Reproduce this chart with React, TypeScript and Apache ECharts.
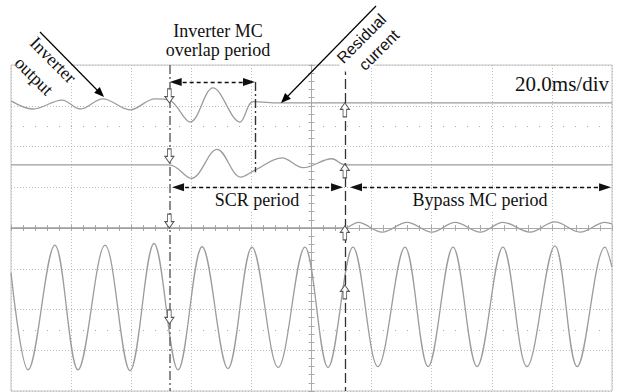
import React, { useEffect, useRef } from "react";
import * as echarts from "echarts";

// ---- axes: oscilloscope screen, 20 ms/div horizontally, 8 vertical divisions ----
const TIME_MIN = -100;
const TIME_MAX = 100;
const TIME_DIV = 20;
const DIV_MIN = -4;
const DIV_MAX = 4;
const TIME_SCALE_LABEL = "20.0ms/div";

// ---- traces: [time (ms), screen divisions] key points ----
const inverterVoltage: [number, number][] = [
  [-100, 3.12], [-92.7, 2.92], [-83.0, 3.14], [-77.0, 2.92], [-69.4, 3.17],
  [-60.4, 2.9], [-52.1, 3.17], [-47.3, 3.14], [-40.4, 2.6], [-32.8, 3.44],
  [-23.8, 2.6], [-19.4, 3.1], [-12, 3.07], [100, 3.07],
];
const scrCurrent: [number, number][] = [
  [-100, 1.55], [-47.3, 1.55], [-40.0, 1.22], [-31.4, 1.93], [-23.5, 1.25],
  [-18.8, 1.42], [-9.8, 1.72], [-2.8, 1.48], [6.8, 1.7], [11.1, 1.55], [100, 1.55],
];
const bypassCurrent: [number, number][] = [
  [-100, 0], [11.1, 0], [15.5, 0.14], [23.5, -0.1], [31.8, 0.14], [40.1, -0.1],
  [47.8, 0.14], [56.2, -0.1], [63.7, 0.14], [72.7, -0.1], [81.0, 0.15],
  [89.4, -0.1], [97.7, 0.14], [100, 0.1],
];
const loadVoltage: [number, number][] = [
  [-100, -1.1], [-94.3, -3.48], [-85.4, -0.42], [-77.7, -3.48], [-68.7, -0.42],
  [-60.4, -3.5], [-52.4, -0.38], [-44.4, -3.48], [-36.4, -0.46], [-27.8, -3.45],
  [-19.8, -0.47], [-11.1, -3.42], [-2.2, -0.47], [5.5, -3.42], [13.8, -0.47],
  [22.1, -3.4], [31.1, -0.47], [38.8, -3.4], [47.1, -0.47], [55.1, -3.4],
  [63.7, -0.47], [71.7, -3.4], [81.0, -0.44], [88.4, -3.4], [97.7, -0.47], [100, -0.96],
];

// ---- event times (ms) and marker levels (div) ----
const inverterOffTime = -47.3;
const overlapEndTime = -18.8;
const bypassOnTime = 11.1;
const downMarkerLevels = [3.24, 1.77, 0.17, -2.18];
const upMarkerLevels = [2.9, 1.4, -0.12, -1.57];
const overlapArrow = { from: -45.2, to: -20.8, level: 3.58 };
const scrArrow = { from: -44.4, to: 8.5, level: 1.0 };
const bypassArrow = { from: 14.8, to: 97.7, level: 1.0 };
const dottedRows = [2.5, -2.5];

const SERIF = "'Liberation Serif', 'Times New Roman', serif";
const SANS = "'Liberation Sans', Arial, sans-serif";
const TRACE = "#9c9c9c";
const GRID = "#bdbdbd";

const UP_ARROW = "path://M3,13 L3,6 L0,6 L5,0 L10,6 L7,6 L7,13 Z";
const DOWN_ARROW = "path://M3,0 L7,0 L7,7 L10,7 L5,13 L0,7 L3,7 Z";

function txt(text: string, x: number, y: number, font: string, rotation = 0, extra: any = {}) {
  return {
    type: "text",
    x,
    y,
    rotation,
    z: 60,
    style: {
      text,
      font,
      fill: "#111",
      align: extra.align || "center",
      textAlign: extra.align || "center",
      verticalAlign: "middle",
      textVerticalAlign: "middle",
      ...(extra.bg ? { backgroundColor: "#fff", padding: [1, 3] } : {}),
    },
  };
}

export default function App() {
  const ref = useRef<HTMLDivElement>(null);
  useEffect(() => {
    if (!ref.current) return;
    const chart = echarts.init(ref.current, undefined, { renderer: "svg" });
    const traceSeries = (name: string, data: [number, number][]) => ({
      name,
      type: "line",
      data,
      smooth: 0.36,
      showSymbol: false,
      symbol: "none",
      lineStyle: { color: TRACE, width: 1.3 },
      z: 3,
    });
    const centerAxisX = (position: string, split: boolean) => ({
      type: "value",
      min: TIME_MIN,
      max: TIME_MAX,
      interval: TIME_DIV,
      position,
      axisLine: { show: true, onZero: true, onZeroAxisIndex: 0, lineStyle: { color: "#aaa", width: 1 } },
      axisTick: { show: true, length: 3, lineStyle: { color: "#aaa" } },
      minorTick: { show: true, splitNumber: 5, length: 3, lineStyle: { color: "#aaa" } },
      axisLabel: { show: false },
      splitLine: { show: split, lineStyle: { color: GRID, type: [1, 2], width: 1 } },
    });
    const centerAxisY = (position: string, split: boolean) => ({
      type: "value",
      min: DIV_MIN,
      max: DIV_MAX,
      interval: 1,
      position,
      axisLine: { show: true, onZero: true, onZeroAxisIndex: 0, lineStyle: { color: "#aaa", width: 1 } },
      axisTick: { show: true, length: 3, lineStyle: { color: "#aaa" } },
      minorTick: { show: true, splitNumber: 5, length: 3, lineStyle: { color: "#aaa" } },
      axisLabel: { show: false },
      splitLine: { show: split, lineStyle: { color: GRID, type: [1, 2], width: 1 } },
    });

    const arrowPair = (a: { from: number; to: number; level: number }) => [
      { coord: [a.from, a.level], symbol: "triangle" },
      { coord: [a.to, a.level], symbol: "triangle" },
    ];

    chart.setOption({
      animation: false,
      backgroundColor: "#fff",
      grid: {
        left: 11,
        right: 8,
        top: 65,
        bottom: 1,
        show: true,
        borderColor: "#c4c4c4",
        borderWidth: 1,
      },
      xAxis: [centerAxisX("bottom", true), centerAxisX("top", false)],
      yAxis: [centerAxisY("left", true), centerAxisY("right", false)],
      series: [
        traceSeries("Inverter output", inverterVoltage),
        traceSeries("SCR current", scrCurrent),
        traceSeries("Bypass current", bypassCurrent),
        traceSeries("Load voltage", loadVoltage),
        {
          name: "rows",
          type: "line",
          data: [],
          markLine: {
            silent: true,
            symbol: "none",
            label: { show: false },
            lineStyle: { color: "#aaa", type: [1, 11], width: 1.2 },
            data: dottedRows.map((v) => ({ yAxis: v })),
          },
        },
        {
          name: "switch lines",
          type: "line",
          data: [],
          z: 5,
          markLine: {
            silent: true,
            symbol: "none",
            label: { show: false },
            data: [
              [
                { coord: [inverterOffTime, DIV_MAX], lineStyle: { color: "#6f6f6f", width: 1.6, type: [9, 3, 2, 3] } },
                { coord: [inverterOffTime, DIV_MIN] },
              ],
              [
                { coord: [overlapEndTime, 3.58], lineStyle: { color: "#333", width: 1.4, type: [9, 3, 2, 3] } },
                { coord: [overlapEndTime, 1.37] },
              ],
              [
                { coord: [bypassOnTime, DIV_MAX], lineStyle: { color: "#333", width: 1.3, type: [10, 4] } },
                { coord: [bypassOnTime, DIV_MIN] },
              ],
            ],
          },
        },
        {
          name: "period arrows",
          type: "line",
          data: [],
          z: 6,
          markLine: {
            silent: true,
            symbolSize: [8, 12],
            label: { show: false },
            lineStyle: { color: "#111", width: 1.3, type: [4, 3] },
            itemStyle: { color: "#111" },
            data: [arrowPair(overlapArrow), arrowPair(scrArrow), arrowPair(bypassArrow)],
          },
        },
        {
          name: "trigger markers",
          type: "line",
          data: [],
          z: 7,
          markPoint: {
            silent: true,
            label: { show: false },
            symbolSize: [9, 14],
            itemStyle: { color: "#fff", borderColor: "#555", borderWidth: 1 },
            data: [
              ...downMarkerLevels.map((v) => ({ coord: [inverterOffTime, v], symbol: DOWN_ARROW })),
              ...upMarkerLevels.map((v) => ({ coord: [bypassOnTime, v], symbol: UP_ARROW })),
            ],
          },
        },
      ],
      graphic: [
        // "Inverter output" callout
        { type: "polygon", z: 50, shape: { points: [[80, 74], [55, 99], [8, 56], [34, 29]] }, style: { fill: "#fff" } },
        txt("Inverter", 53, 60, `18px ${SERIF}`, -Math.PI / 4),
        txt("output", 34, 76, `18px ${SERIF}`, -Math.PI / 4),
        { type: "line", z: 61, shape: { x1: 40, y1: 32, x2: 98, y2: 91 }, style: { stroke: "#000", lineWidth: 1.2 } },
        { type: "polygon", z: 61, shape: { points: [[104, 97], [94.2, 92.7], [99.8, 87.1]] }, style: { fill: "#000" } },
        // "Residual current" callout
        { type: "polygon", z: 50, shape: { points: [[333, 58], [356, 83], [396, 44], [376, 6]] }, style: { fill: "#fff" } },
        txt("Residual", 361.5, 38.5, `16px ${SANS}`, Math.PI / 4),
        txt("current", 379, 50, `16px ${SANS}`, Math.PI / 4),
        { type: "line", z: 61, shape: { x1: 376, y1: 6, x2: 287, y2: 97 }, style: { stroke: "#000", lineWidth: 1.2 } },
        { type: "polygon", z: 61, shape: { points: [[281, 103], [290.9, 98.7], [285.1, 93.1]] }, style: { fill: "#000" } },
        // period labels
        txt("Inverter MC", 218, 31, `18px ${SERIF}`),
        txt("overlap period", 218, 50, `18px ${SERIF}`),
        txt("SCR period", 257, 200, `18px ${SERIF}`, 0, { bg: true }),
        txt("Bypass MC period", 480, 200, `18px ${SERIF}`, 0, { bg: true }),
        txt(TIME_SCALE_LABEL, 609, 84, `21px ${SERIF}`, 0, { align: "right" }),
      ],
    });
    return () => chart.dispose();
  }, []);
  return (
    <div
      ref={ref}
      style={{ position: "fixed", left: 0, top: 0, width: 620, height: 392, background: "#fff" }}
    />
  );
}
